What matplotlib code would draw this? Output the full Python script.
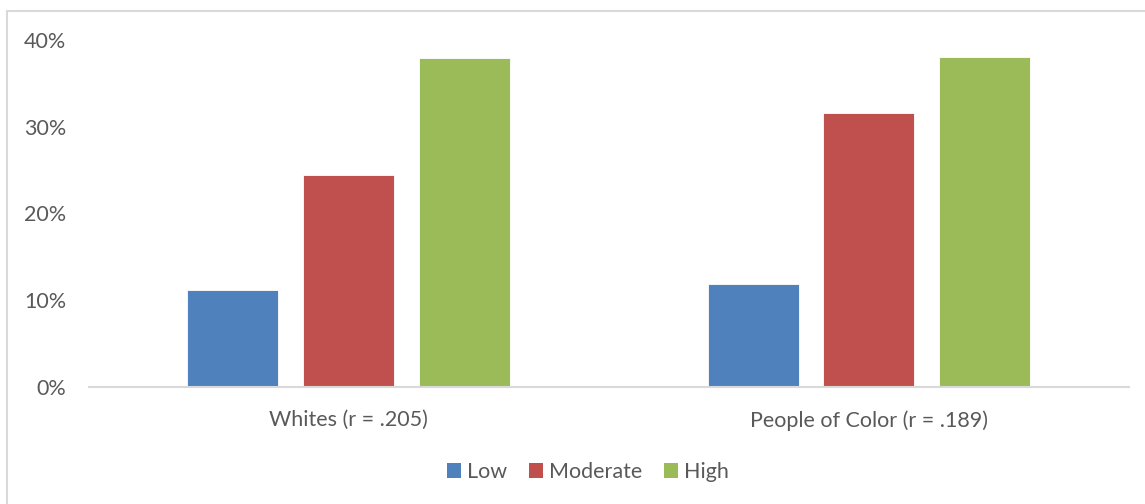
import matplotlib
matplotlib.use("Agg")
import matplotlib.pyplot as plt
from matplotlib.patches import Rectangle, Patch
from matplotlib.ticker import PercentFormatter

groups = ["Whites (r = .205)", "People of Color (r = .189)"]
levels = ["Low", "Moderate", "High"]
low = [0.111, 0.118]
moderate = [0.244, 0.316]
high = [0.379, 0.380]
colors = ["#4F81BD", "#C0504D", "#9BBB59"]
yticks = [0.0, 0.1, 0.2, 0.3, 0.4]

plt.rcParams["font.family"] = ["Lato", "DejaVu Sans"]
text_gray = "#595959"
line_gray = "#D9D9D9"
fs = 15.5

W, H = 1145, 504
fig = plt.figure(figsize=(W / 100, H / 100), dpi=100)

# chart area border (extends past the right and bottom edges)
fig.patches.append(Rectangle((7 / W, -0.2), 1.2, 1 - 11 / H + 0.2,
                             transform=fig.transFigure, fill=False,
                             edgecolor=line_gray, linewidth=1.5, zorder=0))

ax = fig.add_axes([88.5 / W, 1 - 386.7 / H, (1129 - 88.5) / W, 346.7 / H])

width = 0.175
step = 0.2224
x = range(len(groups))
for i, (vals, lab) in enumerate(zip([low, moderate, high], levels)):
    ax.bar([xi + (i - 1) * step for xi in x], vals, width=width,
           color=colors[i], edgecolor="white", linewidth=0.6, label=lab, zorder=2)

ax.set_xlim(-0.5, 1.5)
ax.set_ylim(0, 0.4)
ax.set_yticks(yticks)
ax.yaxis.set_major_formatter(PercentFormatter(1.0, decimals=0))
ax.set_xticks(list(x))
ax.set_xticklabels(groups)

for s in ["top", "right", "left"]:
    ax.spines[s].set_visible(False)
ax.spines["bottom"].set_color(line_gray)
ax.spines["bottom"].set_linewidth(1.5)
ax.tick_params(axis="y", length=0, pad=16, labelsize=fs, labelcolor=text_gray)
ax.tick_params(axis="x", length=0, pad=17, labelsize=fs, labelcolor=text_gray)

handles = [Patch(facecolor=c, edgecolor="none") for c in colors]
fig.legend(handles, levels, loc="center", bbox_to_anchor=(588 / W, 1 - 472 / H),
           ncol=3, frameon=False, fontsize=fs, labelcolor=text_gray,
           handlelength=0.65, handleheight=0.65, handletextpad=0.3,
           columnspacing=1.0)

fig.savefig("out.png", dpi=100, facecolor="white")
